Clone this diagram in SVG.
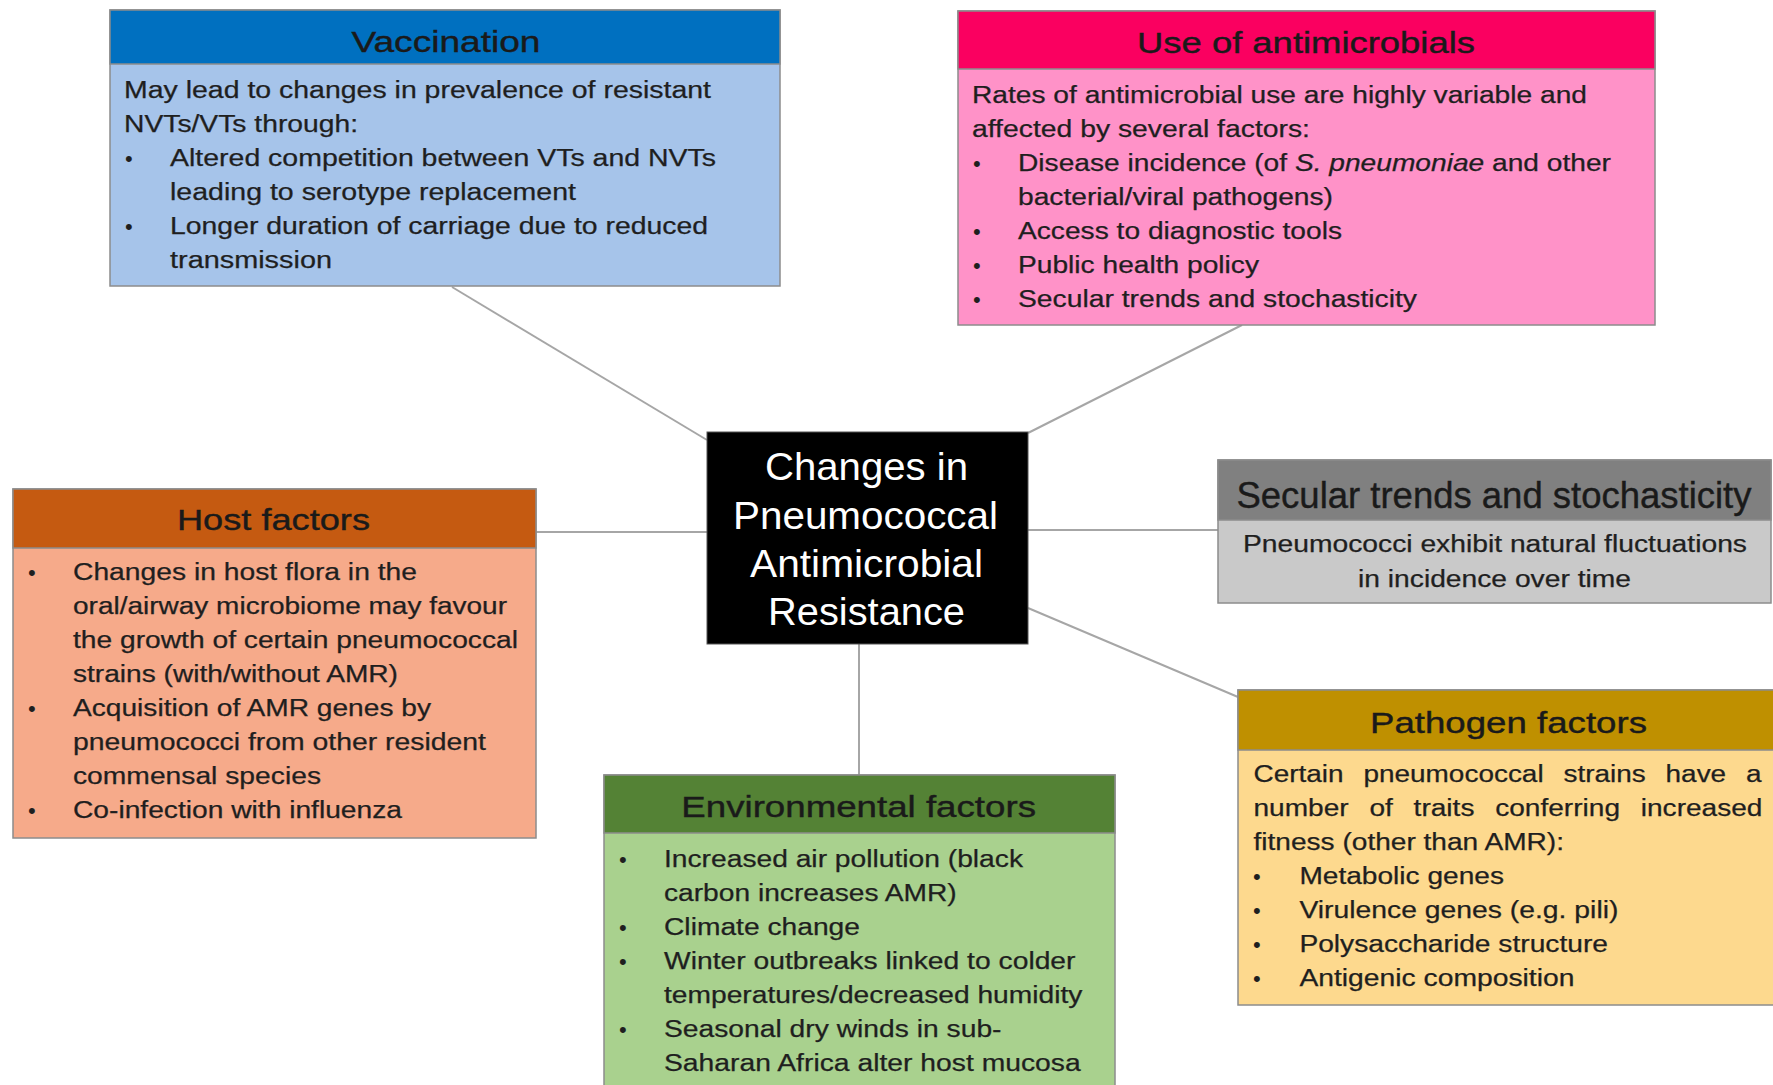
<svg xmlns="http://www.w3.org/2000/svg" width="1773" height="1085" viewBox="0 0 1773 1085">
<style>
.t{font-family:"Liberation Sans",Arial,Helvetica,sans-serif}
.title{font-size:30px;fill:#1a1a1a;stroke:#1a1a1a;stroke-width:0.4}
.body{font-size:23px;fill:#1f1f1f;stroke:#1f1f1f;stroke-width:0.25}
.bul{font-size:22px;fill:#1f1f1f}
.box{stroke:#8c8c8c;stroke-width:1.5}
.conn{stroke:#a6a6a6;stroke-width:2;fill:none}
.center{font-size:39px;fill:#ffffff}
</style>
<rect x="0" y="0" width="1773" height="1085" fill="#ffffff"/>
<g id="connectors">
<line class="conn" x1="452" y1="287" x2="707" y2="440"/>
<line class="conn" x1="1242" y1="325" x2="1028" y2="433"/>
<line class="conn" x1="536" y1="532" x2="707" y2="532"/>
<line class="conn" x1="1028" y1="530" x2="1218" y2="530"/>
<line class="conn" x1="1028" y1="608" x2="1238" y2="697"/>
<line class="conn" x1="859" y1="644" x2="859" y2="775"/>
</g>
<g id="vaccination">
<rect class="box" x="110" y="10" width="670" height="276" fill="#A6C4EA"/>
<rect class="box" x="110" y="10" width="670" height="54" fill="#0070C0"/>
<text class="t title" x="351.5" y="52" textLength="189" lengthAdjust="spacingAndGlyphs">Vaccination</text>
<text class="t body" x="124" y="98" textLength="587" lengthAdjust="spacingAndGlyphs">May lead to changes in prevalence of resistant</text>
<text class="t body" x="124" y="132" textLength="234" lengthAdjust="spacingAndGlyphs">NVTs/VTs through:</text>
<text class="t bul" x="125" y="166">•</text>
<text class="t body" x="170" y="166" textLength="546" lengthAdjust="spacingAndGlyphs">Altered competition between VTs and NVTs</text>
<text class="t body" x="170" y="200" textLength="406" lengthAdjust="spacingAndGlyphs">leading to serotype replacement</text>
<text class="t bul" x="125" y="234">•</text>
<text class="t body" x="170" y="234" textLength="538" lengthAdjust="spacingAndGlyphs">Longer duration of carriage due to reduced</text>
<text class="t body" x="170" y="268" textLength="162" lengthAdjust="spacingAndGlyphs">transmission</text>
</g>
<g id="antimicrobials">
<rect class="box" x="958" y="11" width="697" height="314" fill="#FF92C8"/>
<rect class="box" x="958" y="11" width="697" height="58" fill="#FA0060"/>
<text class="t title" x="1137" y="53" textLength="338" lengthAdjust="spacingAndGlyphs">Use of antimicrobials</text>
<text class="t body" x="972" y="103" textLength="615" lengthAdjust="spacingAndGlyphs">Rates of antimicrobial use are highly variable and</text>
<text class="t body" x="972" y="137" textLength="338" lengthAdjust="spacingAndGlyphs">affected by several factors:</text>
<text class="t bul" x="973" y="171">•</text>
<text class="t body" x="1018" y="171" textLength="593" lengthAdjust="spacingAndGlyphs">Disease incidence (of <tspan font-style="italic">S. pneumoniae</tspan> and other</text>
<text class="t body" x="1018" y="205" textLength="315" lengthAdjust="spacingAndGlyphs">bacterial/viral pathogens)</text>
<text class="t bul" x="973" y="239">•</text>
<text class="t body" x="1018" y="239" textLength="324" lengthAdjust="spacingAndGlyphs">Access to diagnostic tools</text>
<text class="t bul" x="973" y="273">•</text>
<text class="t body" x="1018" y="273" textLength="241" lengthAdjust="spacingAndGlyphs">Public health policy</text>
<text class="t bul" x="973" y="307">•</text>
<text class="t body" x="1018" y="307" textLength="399" lengthAdjust="spacingAndGlyphs">Secular trends and stochasticity</text>
</g>
<g id="host-factors">
<rect class="box" x="13" y="489" width="523" height="349" fill="#F6AA8A"/>
<rect class="box" x="13" y="489" width="523" height="59" fill="#C55A11"/>
<text class="t title" x="177" y="530" textLength="193" lengthAdjust="spacingAndGlyphs">Host factors</text>
<text class="t bul" x="28" y="580">•</text>
<text class="t body" x="73" y="580" textLength="344" lengthAdjust="spacingAndGlyphs">Changes in host flora in the</text>
<text class="t body" x="73" y="614" textLength="434" lengthAdjust="spacingAndGlyphs">oral/airway microbiome may favour</text>
<text class="t body" x="73" y="648" textLength="445" lengthAdjust="spacingAndGlyphs">the growth of certain pneumococcal</text>
<text class="t body" x="73" y="682" textLength="325" lengthAdjust="spacingAndGlyphs">strains (with/without AMR)</text>
<text class="t bul" x="28" y="716">•</text>
<text class="t body" x="73" y="716" textLength="358" lengthAdjust="spacingAndGlyphs">Acquisition of AMR genes by</text>
<text class="t body" x="73" y="750" textLength="413" lengthAdjust="spacingAndGlyphs">pneumococci from other resident</text>
<text class="t body" x="73" y="784" textLength="248" lengthAdjust="spacingAndGlyphs">commensal species</text>
<text class="t bul" x="28" y="818">•</text>
<text class="t body" x="73" y="818" textLength="329" lengthAdjust="spacingAndGlyphs">Co-infection with influenza</text>
</g>
<g id="center">
<rect x="707" y="432" width="321" height="212" fill="#000000" stroke="#555555" stroke-width="1"/>
<text class="t center" x="765" y="480" textLength="203" lengthAdjust="spacingAndGlyphs">Changes in</text>
<text class="t center" x="733" y="528.5" textLength="265" lengthAdjust="spacingAndGlyphs">Pneumococcal</text>
<text class="t center" x="750" y="577" textLength="233" lengthAdjust="spacingAndGlyphs">Antimicrobial</text>
<text class="t center" x="768" y="625" textLength="197" lengthAdjust="spacingAndGlyphs">Resistance</text>
</g>
<g id="secular-trends">
<rect class="box" x="1218" y="460" width="553" height="143" fill="#C9C9C9"/>
<rect class="box" x="1218" y="460" width="553" height="60" fill="#808080"/>
<text class="t title" x="1236.5" y="508" style="font-size:37px" textLength="515" lengthAdjust="spacingAndGlyphs">Secular trends and stochasticity</text>
<text class="t body" x="1243" y="552" textLength="504" lengthAdjust="spacingAndGlyphs">Pneumococci exhibit natural fluctuations</text>
<text class="t body" x="1358" y="587" textLength="273" lengthAdjust="spacingAndGlyphs">in incidence over time</text>
</g>
<g id="pathogen-factors">
<rect class="box" x="1238" y="690" width="540" height="315" fill="#FDD98E"/>
<rect class="box" x="1238" y="690" width="540" height="60" fill="#BF9000"/>
<text class="t title" x="1370" y="733" textLength="277" lengthAdjust="spacingAndGlyphs">Pathogen factors</text>
<text class="t body" x="1253.5" y="782" word-spacing="9.9" textLength="508" lengthAdjust="spacingAndGlyphs">Certain pneumococcal strains have a</text>
<text class="t body" x="1253.5" y="816" word-spacing="10.6" textLength="509" lengthAdjust="spacingAndGlyphs">number of traits conferring increased</text>
<text class="t body" x="1253.5" y="850" textLength="310.5" lengthAdjust="spacingAndGlyphs">fitness (other than AMR):</text>
<text class="t bul" x="1253" y="884">•</text>
<text class="t body" x="1299.4" y="884" textLength="204.6" lengthAdjust="spacingAndGlyphs">Metabolic genes</text>
<text class="t bul" x="1253" y="918">•</text>
<text class="t body" x="1299.4" y="918" textLength="319" lengthAdjust="spacingAndGlyphs">Virulence genes (e.g. pili)</text>
<text class="t bul" x="1253" y="952">•</text>
<text class="t body" x="1299.4" y="952" textLength="308.6" lengthAdjust="spacingAndGlyphs">Polysaccharide structure</text>
<text class="t bul" x="1253" y="986">•</text>
<text class="t body" x="1299.4" y="986" textLength="275" lengthAdjust="spacingAndGlyphs">Antigenic composition</text>
</g>
<g id="environmental-factors">
<rect class="box" x="604" y="775" width="511" height="320" fill="#A9D18E"/>
<rect class="box" x="604" y="775" width="511" height="58" fill="#548235"/>
<text class="t title" x="681.3" y="817" textLength="354.7" lengthAdjust="spacingAndGlyphs">Environmental factors</text>
<text class="t bul" x="619" y="867">•</text>
<text class="t body" x="664" y="867" textLength="359" lengthAdjust="spacingAndGlyphs">Increased air pollution (black</text>
<text class="t body" x="664" y="901" textLength="292.7" lengthAdjust="spacingAndGlyphs">carbon increases AMR)</text>
<text class="t bul" x="619" y="935">•</text>
<text class="t body" x="664" y="935" textLength="196" lengthAdjust="spacingAndGlyphs">Climate change</text>
<text class="t bul" x="619" y="969">•</text>
<text class="t body" x="664" y="969" textLength="411.5" lengthAdjust="spacingAndGlyphs">Winter outbreaks linked to colder</text>
<text class="t body" x="664" y="1003" textLength="418.4" lengthAdjust="spacingAndGlyphs">temperatures/decreased humidity</text>
<text class="t bul" x="619" y="1037">•</text>
<text class="t body" x="664" y="1037" textLength="337.5" lengthAdjust="spacingAndGlyphs">Seasonal dry winds in sub-</text>
<text class="t body" x="664" y="1071" textLength="416.7" lengthAdjust="spacingAndGlyphs">Saharan Africa alter host mucosa</text>
</g>
</svg>
